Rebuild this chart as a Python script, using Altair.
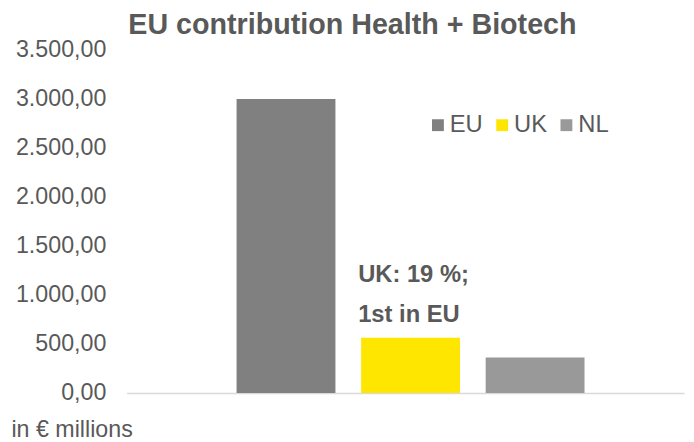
import altair as alt
import pandas as pd

categories = ["EU", "UK", "NL"]
values = [3000, 565, 362]
colors = ["#808080", "#ffe600", "#999999"]
y_ticks = [0, 500, 1000, 1500, 2000, 2500, 3000, 3500]
note_lines = ["UK: 19 %;", "1st in EU"]

df = pd.DataFrame({"cat": categories, "value": values})
note1 = pd.DataFrame({"cat": ["UK"], "value": [values[1]], "label": [note_lines[0]]})
note2 = pd.DataFrame({"cat": ["UK"], "value": [values[1]], "label": [note_lines[1]]})

FONT = "Liberation Sans"
TXT = "#595959"

x_enc = alt.X("cat:N", sort=categories,
              scale=alt.Scale(paddingInner=0.2063, paddingOuter=0.841, align=0.525, round=False),
              axis=alt.Axis(labels=False, ticks=False, title=None, domainColor="#d9d9d9", domainWidth=1.5))

bars = alt.Chart(df).mark_bar().encode(
    x=x_enc,
    y=alt.Y("value:Q", scale=alt.Scale(domain=[0, 3500], nice=False),
            axis=alt.Axis(values=y_ticks, format=",.2f", grid=False, domain=False, ticks=False,
                          labelFontSize=23.5, labelColor=TXT, labelFont=FONT, labelPadding=21,
                          title="in € millions", titleAngle=0, titleX=-117, titleY=391,
                          titleAlign="left", titleBaseline="alphabetic", titleFont=FONT,
                          titleFontSize=23.5, titleFontWeight="normal", titleColor=TXT)),
    color=alt.Color("cat:N", sort=categories,
                    scale=alt.Scale(domain=categories, range=colors),
                    legend=alt.Legend(title=None, orient="none", direction="horizontal",
                                      legendX=303, legendY=64, symbolType="square", symbolSize=144,
                                      symbolStrokeWidth=0, labelFontSize=24, labelFont=FONT,
                                      labelColor=TXT, labelOffset=0, columnPadding=7, padding=0)),
)

t1 = alt.Chart(note1).mark_text(align="left", baseline="alphabetic", dx=-53, dy=-56,
                                font=FONT, fontSize=24, fontWeight="bold", color=TXT).encode(
    x=alt.X("cat:N", sort=categories), y="value:Q", text="label:N")
t2 = alt.Chart(note2).mark_text(align="left", baseline="alphabetic", dx=-53, dy=-16,
                                font=FONT, fontSize=24, fontWeight="bold", color=TXT).encode(
    x=alt.X("cat:N", sort=categories), y="value:Q", text="label:N")

chart = alt.layer(bars, t1, t2).properties(
    width=564, height=347,
    title=alt.Title("EU contribution Health + Biotech", anchor="middle", frame="bounds",
                    font=FONT, fontSize=29, fontWeight="bold", color=TXT, offset=4,
                    dx=5, dy=6),
    autosize=alt.AutoSizeParams(type="none"),
    padding={"left": 120, "top": 40, "right": 2, "bottom": 47},
).configure(
    locale={"number": {"decimal": ",", "thousands": ".", "grouping": [3], "currency": ["", " €"]}}
).configure_view(stroke=None)

chart.save("out.html", embed_options={"renderer": "svg", "actions": False})
